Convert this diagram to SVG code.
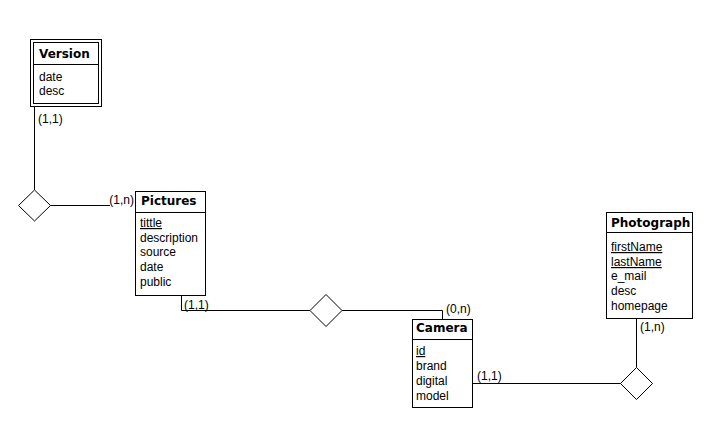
<svg xmlns="http://www.w3.org/2000/svg" width="716" height="435" viewBox="0 0 716 435">
<style>
.box{fill:#fff;stroke:#000;stroke-width:1}
.ln{fill:none;stroke:#000;stroke-width:1}
.hd{font-family:"DejaVu Sans",sans-serif;font-weight:bold;font-size:12px;fill:#000}
.at{font-family:"Liberation Sans",Arial,sans-serif;font-size:12px;fill:#000}
.u{text-decoration:underline}
.lb{font-family:"Liberation Sans",Arial,sans-serif;font-size:12px;fill:#000}
</style>
<rect width="716" height="435" fill="#fff"/>
<g id="connectors">
<path class="ln" d="M34.5,106.5 V190"/>
<path class="ln" d="M50.5,205.5 H135.5"/>
<path class="ln" d="M181.5,295.5 V310.5 H310"/>
<path class="ln" d="M342,310.5 H442.5 V319.5"/>
<path class="ln" d="M472.5,383.5 H620.5"/>
<path class="ln" d="M636.5,318.5 V367.5"/>
<text class="lb" x="38" y="123">(1,1)</text>
<rect x="110" y="194" width="25" height="12" fill="#fff"/>
<text class="lb" x="134" y="204" text-anchor="end">(1,n)</text>
<rect x="184" y="298" width="24" height="12" fill="#fff"/>
<text class="lb" x="184" y="309">(1,1)</text>
<text class="lb" x="446" y="313">(0,n)</text>
<text class="lb" x="477" y="380">(1,1)</text>
<text class="lb" x="640" y="331">(1,n)</text>
</g>
<g id="Version">
<rect class="box" x="30.5" y="39.5" width="71" height="67"/>
<rect class="box" x="33.5" y="42.5" width="65" height="61"/>
<path class="ln" d="M33.5,64.5 H98.5"/>
<text class="hd" x="39" y="58">Version</text>
<text class="at" x="39" y="81">date</text>
<text class="at" x="39" y="95">desc</text>
</g>
<g id="rel1">
<polygon class="box" points="34.5,190 50.5,205.5 34.5,221 18.5,205.5"/>
</g>
<g id="Pictures">
<rect class="box" x="135.5" y="191.5" width="70" height="104"/>
<path class="ln" d="M135.5,212.5 H205.5"/>
<text class="hd" x="141" y="205">Pictures</text>
<text class="at u" x="140" y="227">tittle</text>
<text class="at" x="140" y="242">description</text>
<text class="at" x="140" y="256">source</text>
<text class="at" x="140" y="271">date</text>
<text class="at" x="140" y="286">public</text>
</g>
<g id="rel2">
<polygon class="box" points="326,294.5 342,310.5 326,326.5 310,310.5"/>
</g>
<g id="Camera">
<rect class="box" x="412.5" y="319.5" width="60" height="88"/>
<path class="ln" d="M412.5,339.5 H472.5"/>
<text class="hd" x="416" y="332">Camera</text>
<text class="at u" x="416" y="355">id</text>
<text class="at" x="416" y="370">brand</text>
<text class="at" x="416" y="385">digital</text>
<text class="at" x="416" y="400">model</text>
</g>
<g id="rel3">
<polygon class="box" points="636.5,367.5 652.5,383.5 636.5,399.5 620.5,383.5"/>
</g>
<g id="Photograph">
<rect class="box" x="606.5" y="212.5" width="86" height="106"/>
<path class="ln" d="M606.5,232.5 H692.5"/>
<text class="hd" x="611" y="227">Photograph</text>
<text class="at u" x="611" y="251">firstName</text>
<text class="at u" x="611" y="266">lastName</text>
<text class="at" x="611" y="280">e_mail</text>
<text class="at" x="611" y="295">desc</text>
<text class="at" x="611" y="310">homepage</text>
</g>
</svg>
